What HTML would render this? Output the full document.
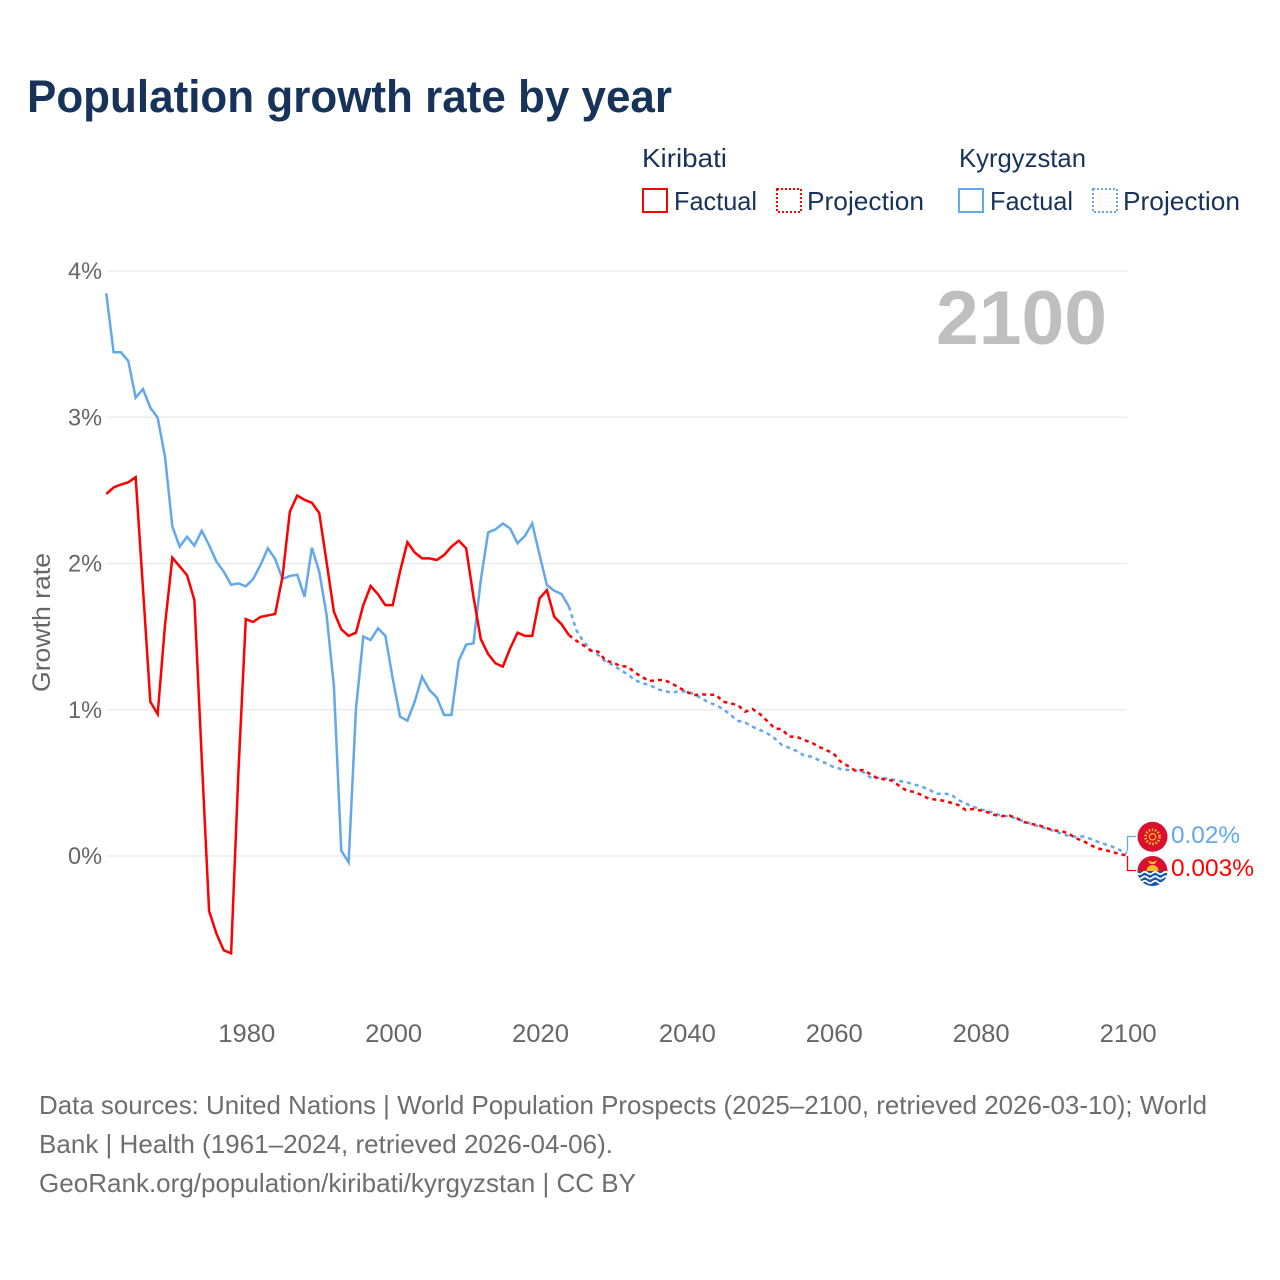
<!DOCTYPE html>
<html lang="en">
<head>
<meta charset="utf-8">
<title>Population growth rate by year</title>
<style>
html,body{margin:0;padding:0;background:#fff;}
svg{display:block;}
text{font-family:"Liberation Sans",sans-serif;}
</style>
</head>
<body>
<svg id="chart" xmlns="http://www.w3.org/2000/svg" width="1280" height="1280" viewBox="0 0 1280 1280">
  <rect x="0" y="0" width="1280" height="1280" fill="#ffffff"/>
  <text x="27" y="112" font-size="45" font-weight="700" fill="#17335a" textLength="645" lengthAdjust="spacingAndGlyphs">Population growth rate by year</text>

  <g font-size="26" fill="#17335a">
    <text x="642" y="167" textLength="85" lengthAdjust="spacingAndGlyphs">Kiribati</text>
    <text x="959" y="167" textLength="127" lengthAdjust="spacingAndGlyphs">Kyrgyzstan</text>
    <rect x="643" y="189" width="24" height="23" fill="none" stroke="#ff0000" stroke-width="2"/>
    <text x="674" y="210" textLength="83" lengthAdjust="spacingAndGlyphs">Factual</text>
    <rect x="777" y="189" width="24" height="23" fill="none" stroke="#ff0000" stroke-width="2" stroke-dasharray="2 2"/>
    <text x="807" y="210" textLength="117" lengthAdjust="spacingAndGlyphs">Projection</text>
    <rect x="959" y="189" width="24" height="23" fill="none" stroke="#62a8ea" stroke-width="2"/>
    <text x="990" y="210" textLength="83" lengthAdjust="spacingAndGlyphs">Factual</text>
    <rect x="1093" y="189" width="24" height="23" fill="none" stroke="#62a8ea" stroke-width="2" stroke-dasharray="2 2"/>
    <text x="1123" y="210" textLength="117" lengthAdjust="spacingAndGlyphs">Projection</text>
  </g>

  <g id="grid"></g>
  <g id="y-axis"></g>
  <g id="x-axis"></g>
  <text transform="translate(50,622.5) rotate(-90)" text-anchor="middle" font-size="25" fill="#666666" textLength="139" lengthAdjust="spacingAndGlyphs">Growth rate</text>
  <text x="936" y="344" font-size="76" font-weight="700" fill="#bfbfbf" textLength="171" lengthAdjust="spacingAndGlyphs">2100</text>

  <g id="series"></g>

  <g fill="none" stroke-width="1.3">
    <path d="M1127.5 851V836.5H1136" stroke="#62a8ea"/>
    <path d="M1127.5 856V870.5H1136" stroke="#ff0000"/>
  </g>

  <g>
    <circle cx="1152.5" cy="836.8" r="15" fill="#d9102f"/>
    <circle cx="1152.5" cy="836.8" r="7" fill="none" stroke="#f6c21c" stroke-width="2.6" stroke-dasharray="1.6 1.6"/>
    <circle cx="1152.5" cy="836.8" r="3.2" fill="none" stroke="#f6c21c" stroke-width="1.2"/>
  </g>
  <g>
    <clipPath id="kiribati-clip"><circle cx="1152.5" cy="871" r="15"/></clipPath>
    <g clip-path="url(#kiribati-clip)">
      <rect x="1137" y="855" width="31" height="16" fill="#d9102f"/>
      <rect x="1137" y="871" width="31" height="16" fill="#1557b0"/>
      <path d="M1146.5 871a6 6 0 0 1 12 0z" fill="#f8c21c"/>
      <path d="M1147.5 860.5l5 1.5 5-1.5-3 3.5h-4z" fill="#f8c21c"/>
      <path d="M1137 873q2.6 2.4 5.2 0t5.2 0 5.2 0 5.2 0 5.2 0 5.2 0M1137 877.5q2.6 2.4 5.2 0t5.2 0 5.2 0 5.2 0 5.2 0 5.2 0M1137 882q2.6 2.4 5.2 0t5.2 0 5.2 0 5.2 0 5.2 0 5.2 0" fill="none" stroke="#ffffff" stroke-width="1.7"/>
    </g>
  </g>
  <g id="end-labels"></g>

  <g font-size="26" fill="#6e6e6e">
    <text x="39" y="1114" textLength="1168" lengthAdjust="spacingAndGlyphs">Data sources: United Nations | World Population Prospects (2025–2100, retrieved 2026-03-10); World</text>
    <text x="39" y="1153" textLength="574" lengthAdjust="spacingAndGlyphs">Bank | Health (1961–2024, retrieved 2026-04-06).</text>
    <text x="39" y="1192" textLength="597" lengthAdjust="spacingAndGlyphs">GeoRank.org/population/kiribati/kyrgyzstan | CC BY</text>
  </g>
</svg>

<script>
const xTickYears = [1980, 2000, 2020, 2040, 2060, 2080, 2100];
const yTickValues = [0, 1, 2, 3, 4];
const factualStartYear = 1961;
const projectionStartYear = 2024;

// Kiribati, growth rate in %, 1961–2024
const kiribatiFactual = [
  2.475, 2.52, 2.54, 2.555, 2.59, 1.83, 1.055, 0.97, 1.58,
  2.04, 1.98, 1.92, 1.75, 0.67, -0.375, -0.53, -0.645, -0.665, 0.58,
  1.62, 1.60, 1.635, 1.645, 1.655, 1.91, 2.355, 2.465, 2.435, 2.415,
  2.345, 2.01, 1.67, 1.55, 1.505, 1.527, 1.715, 1.846, 1.79, 1.715,
  1.715, 1.945, 2.145, 2.075, 2.035, 2.035, 2.024, 2.058, 2.115, 2.156,
  2.104, 1.773, 1.483, 1.381, 1.317, 1.295, 1.42, 1.527, 1.505, 1.505,
  1.762, 1.818, 1.636, 1.584, 1.51
];
// Kyrgyzstan, growth rate in %, 1961–2024
const kyrgyzstanFactual = [
  3.848, 3.444, 3.444, 3.385, 3.134, 3.193, 3.065, 2.997, 2.73,
  2.252, 2.115, 2.183, 2.122, 2.224, 2.125, 2.013, 1.944, 1.855, 1.864,
  1.844, 1.894, 1.99, 2.104, 2.031, 1.894, 1.915, 1.923, 1.773, 2.108,
  1.944, 1.648, 1.158, 0.036, -0.043, 1.005, 1.5, 1.477, 1.557, 1.506,
  1.215, 0.953, 0.925, 1.055, 1.226, 1.135, 1.085, 0.964, 0.964, 1.335,
  1.445, 1.454, 1.887, 2.213, 2.233, 2.274, 2.239, 2.138, 2.188, 2.274,
  2.058, 1.853, 1.814, 1.791, 1.705
];
// Kiribati, projection in %, 2024–2100
const kiribatiProjection = [
  1.51, 1.472, 1.44, 1.403, 1.397, 1.335,
  1.324, 1.298, 1.295, 1.254, 1.222, 1.196, 1.203, 1.203, 1.18, 1.151,
  1.123, 1.10, 1.105, 1.103, 1.103, 1.055, 1.044, 1.032, 0.987, 1.005,
  0.971, 0.923, 0.873, 0.866, 0.816, 0.816, 0.793, 0.777, 0.747, 0.725,
  0.702, 0.645, 0.615, 0.583, 0.588, 0.561, 0.531, 0.524, 0.515, 0.479,
  0.446, 0.439, 0.417, 0.392, 0.385, 0.378, 0.364, 0.349, 0.315, 0.321,
  0.312, 0.299, 0.28, 0.273, 0.276, 0.258, 0.232, 0.219, 0.21, 0.191,
  0.175, 0.171, 0.155, 0.121, 0.104, 0.075, 0.052, 0.041, 0.027, 0.014,
  0.003
];
// Kyrgyzstan, projection in %, 2024–2100
const kyrgyzstanProjection = [
  1.705, 1.545, 1.465, 1.409, 1.374, 1.329,
  1.306, 1.272, 1.242, 1.203, 1.181, 1.169, 1.142, 1.128, 1.117, 1.126,
  1.126, 1.108, 1.078, 1.051, 1.032, 1.005, 0.964, 0.925, 0.912, 0.884,
  0.862, 0.839, 0.805, 0.759, 0.74, 0.718, 0.688, 0.679, 0.656, 0.634,
  0.609, 0.595, 0.588, 0.585, 0.576, 0.538, 0.535, 0.531, 0.524, 0.513,
  0.504, 0.49, 0.474, 0.456, 0.426, 0.426, 0.422, 0.383, 0.36, 0.337,
  0.319, 0.308, 0.292, 0.273, 0.273, 0.253, 0.237, 0.219, 0.2, 0.189,
  0.171, 0.155, 0.137, 0.132, 0.134, 0.118, 0.097, 0.08, 0.064, 0.041,
  0.02
];
const kyrgyzstanEndLabel = "0.02%";
const kiribatiEndLabel = "0.003%";

const SVG_NS = "http://www.w3.org/2000/svg";
const xScale = function (year) { return 245.8 + (year - 1980) * 7.344; };
const yScale = function (value) { return 856 - value * 146.25; };

function linePath(values, startYear) {
  return values.map(function (v, i) {
    return (i ? "L" : "M") + xScale(startYear + i).toFixed(2) + " " + yScale(v).toFixed(2);
  }).join("");
}

const grid = document.getElementById("grid");
const yAxis = document.getElementById("y-axis");
yTickValues.forEach(function (v) {
  const line = document.createElementNS(SVG_NS, "line");
  
  
  line.setAttribute("x1", 107);
  line.setAttribute("x2", 1127);
  line.setAttribute("y1", yScale(v));
  line.setAttribute("y2", yScale(v));
  line.setAttribute("stroke", "#e9e9e9");
  line.setAttribute("stroke-width", "1.2");
  grid.appendChild(line);

  const label = document.createElementNS(SVG_NS, "text");
  
  
  label.setAttribute("x", 102);
  label.setAttribute("y", yScale(v) + 8);
  label.setAttribute("text-anchor", "end");
  label.setAttribute("font-size", "24");
  label.setAttribute("fill", "#666666");
  label.setAttribute("textLength", "34");
  label.setAttribute("lengthAdjust", "spacingAndGlyphs");
  label.textContent = v + "%";
  yAxis.appendChild(label);
});

const xAxis = document.getElementById("x-axis");
xTickYears.forEach(function (year) {
  const label = document.createElementNS(SVG_NS, "text");
  
  
  label.setAttribute("x", xScale(year) + 1);
  label.setAttribute("y", 1042);
  label.setAttribute("text-anchor", "middle");
  label.setAttribute("font-size", "25");
  label.setAttribute("fill", "#666666");
  label.setAttribute("textLength", "57");
  label.setAttribute("lengthAdjust", "spacingAndGlyphs");
  label.textContent = year;
  xAxis.appendChild(label);
});

const seriesGroup = document.getElementById("series");

const kyrgyzstanFactualLine = document.createElementNS(SVG_NS, "path");


kyrgyzstanFactualLine.setAttribute("d", linePath(kyrgyzstanFactual, factualStartYear));
kyrgyzstanFactualLine.setAttribute("fill", "none");
kyrgyzstanFactualLine.setAttribute("stroke", "#62a8ea");
kyrgyzstanFactualLine.setAttribute("stroke-width", "2.5");
seriesGroup.appendChild(kyrgyzstanFactualLine);

const kiribatiFactualLine = document.createElementNS(SVG_NS, "path");


kiribatiFactualLine.setAttribute("d", linePath(kiribatiFactual, factualStartYear));
kiribatiFactualLine.setAttribute("fill", "none");
kiribatiFactualLine.setAttribute("stroke", "#ff0000");
kiribatiFactualLine.setAttribute("stroke-width", "2.5");
seriesGroup.appendChild(kiribatiFactualLine);

const kyrgyzstanProjectionLine = document.createElementNS(SVG_NS, "path");


kyrgyzstanProjectionLine.setAttribute("d", linePath(kyrgyzstanProjection, projectionStartYear));
kyrgyzstanProjectionLine.setAttribute("fill", "none");
kyrgyzstanProjectionLine.setAttribute("stroke", "#62a8ea");
kyrgyzstanProjectionLine.setAttribute("stroke-width", "2.5");
kyrgyzstanProjectionLine.setAttribute("stroke-dasharray", "4 4");
seriesGroup.appendChild(kyrgyzstanProjectionLine);

const kiribatiProjectionLine = document.createElementNS(SVG_NS, "path");


kiribatiProjectionLine.setAttribute("d", linePath(kiribatiProjection, projectionStartYear));
kiribatiProjectionLine.setAttribute("fill", "none");
kiribatiProjectionLine.setAttribute("stroke", "#ff0000");
kiribatiProjectionLine.setAttribute("stroke-width", "2.5");
kiribatiProjectionLine.setAttribute("stroke-dasharray", "4 4");
seriesGroup.appendChild(kiribatiProjectionLine);

const endLabels = document.getElementById("end-labels");

const kyrgyzstanEnd = document.createElementNS(SVG_NS, "text");


kyrgyzstanEnd.setAttribute("x", 1171);
kyrgyzstanEnd.setAttribute("y", 843);
kyrgyzstanEnd.setAttribute("font-size", "24.5");
kyrgyzstanEnd.setAttribute("fill", "#62a8ea");
kyrgyzstanEnd.setAttribute("textLength", "69");
kyrgyzstanEnd.setAttribute("lengthAdjust", "spacingAndGlyphs");
kyrgyzstanEnd.textContent = kyrgyzstanEndLabel;
endLabels.appendChild(kyrgyzstanEnd);

const kiribatiEnd = document.createElementNS(SVG_NS, "text");


kiribatiEnd.setAttribute("x", 1171);
kiribatiEnd.setAttribute("y", 876);
kiribatiEnd.setAttribute("font-size", "24.5");
kiribatiEnd.setAttribute("fill", "#ff0000");
kiribatiEnd.setAttribute("textLength", "83");
kiribatiEnd.setAttribute("lengthAdjust", "spacingAndGlyphs");
kiribatiEnd.textContent = kiribatiEndLabel;
endLabels.appendChild(kiribatiEnd);
</script>
</body>
</html>
